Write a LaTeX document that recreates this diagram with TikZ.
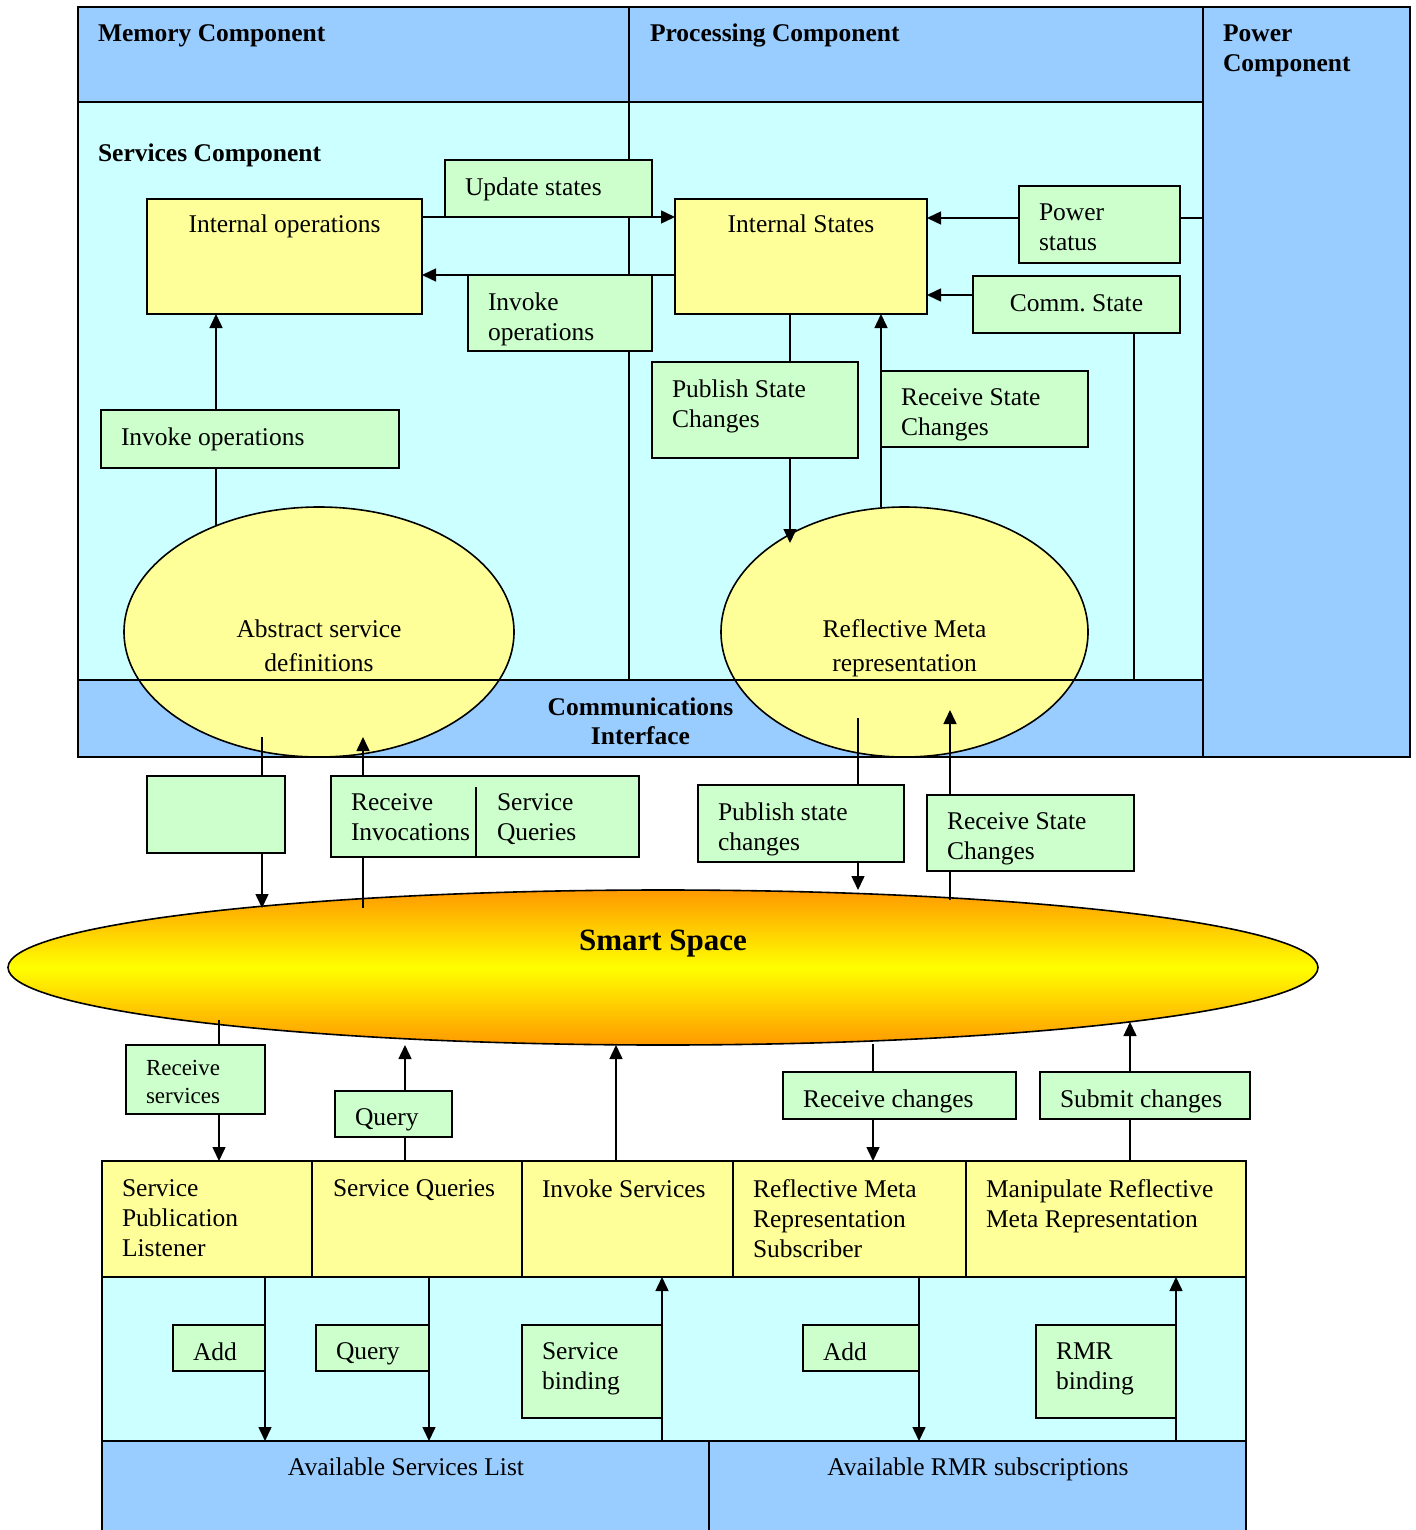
\documentclass[tikz,border=0pt]{standalone}
\usepackage{fontspec}
\setmainfont{Liberation Serif}
\usetikzlibrary{arrows.meta,shapes.geometric}
\definecolor{cblue}{HTML}{99CCFF}
\definecolor{ccyan}{HTML}{CCFFFF}
\definecolor{cyel}{HTML}{FFFF99}
\definecolor{cgrn}{HTML}{CCFFCC}
\definecolor{sorange}{HTML}{FF9900}
\definecolor{syellow}{HTML}{FFFF00}
% green label box: name, x, y, width, height, text
\newcommand{\greenlabel}[6]{%
  \node[gbox, minimum width=#4pt, minimum height=#5pt] (#1) at (#2,#3) {};
  \node[txt, anchor=north west, align=left] (#1T) at ([xshift=20pt,yshift=-18pt]#1.north west) {#6};}
\begin{document}
\frenchspacing
\begin{tikzpicture}[x=1pt,y=-1pt,
  font=\fontsize{25.5}{30}\selectfont,
  area/.style={draw=black, line width=1.6pt, inner sep=0pt, outer sep=0pt, anchor=north west},
  bluearea/.style={area, fill=cblue},
  cyanarea/.style={area, fill=ccyan},
  ybox/.style={area, fill=cyel},
  gbox/.style={area, fill=cgrn},
  txt/.style={inner sep=0pt, outer sep=0pt},
  hd/.style={txt, font=\fontsize{25.5}{30}\selectfont\bfseries},
  ln/.style={line width=1.5pt},
  arr/.style={ln, -{Triangle[length=14pt,width=13pt]}},
  oval/.style={ellipse, draw=black, line width=1.6pt, inner sep=0pt, outer sep=0pt}
]
\fill[white] (0,0) rectangle (1415,1530);
\useasboundingbox (0,0) rectangle (1415,1530);

% ---------- top block ----------
\node[cyanarea, minimum width=1125pt, minimum height=578pt] (sva) at (78,102) {};
\node[bluearea, minimum width=551pt, minimum height=95pt] (mem) at (78,7) {};
\node[bluearea, minimum width=574pt, minimum height=95pt] (proc) at (629,7) {};
\node[bluearea, minimum width=207pt, minimum height=750pt] (pwc) at (1203,7) {};
\node[bluearea, minimum width=1125pt, minimum height=77pt] (ci) at (78,680) {};
\draw[ln] (mem.south east) -- (mem.south east |- ci.north);

\node[hd, anchor=base west] (memT) at (98,42) {Memory Component};
\node[hd, anchor=base west] (procT) at (650,42) {Processing Component};
\node[hd, anchor=north west, align=left] (pwcT) at (1223,25) {Power\\Component};
\node[hd, anchor=base west] (svaT) at (98,162) {Services Component};

% Comm. State box and its vertical line (behind ellipses)
\node[gbox, minimum width=207pt, minimum height=57pt] (cst) at (973,276) {};
\node[txt, anchor=north] (cstT) at ([yshift=-18.5pt]cst.north) {Comm. State};
\draw[ln] (cst.south -| 1134,0) -- (ci.north -| 1134,0);

% ellipses
\node[oval, fill=cyel, minimum width=390pt, minimum height=250pt] (aed) at (319,632) {};
\node[oval, fill=cyel, minimum width=367pt, minimum height=250pt] (rme) at (904.5,632) {};
\draw[line width=1.6pt] (ci.north west) -- (ci.north east);
\node[txt, anchor=north, align=center, font=\fontsize{25.5}{34}\selectfont] (aedT) at (319,620) {Abstract service\\definitions};
\node[txt, anchor=north, align=center, font=\fontsize{25.5}{34}\selectfont] (rmeT) at (904.5,620) {Reflective Meta\\representation};
\node[hd, anchor=north, align=center, font=\fontsize{25.5}{28.5}\selectfont\bfseries] (ciT) at (640.5,698) {Communications\\Interface};

% yellow boxes
\node[ybox, minimum width=275pt, minimum height=115pt] (iops) at (147,199) {};
\node[txt, anchor=base] (iopsT) at ([yshift=-34pt]iops.north) {Internal operations};
\node[ybox, minimum width=252pt, minimum height=115pt] (ist) at (675,199) {};
\node[txt, anchor=base] (istT) at ([yshift=-34pt]ist.north) {Internal States};

% green boxes top
\greenlabel{ups}{445}{160}{207}{57}{Update states}
\greenlabel{iop}{468}{275}{184}{76}{Invoke\\operations}
\greenlabel{pws}{1019}{186}{161}{77}{Power\\status}
\greenlabel{psc}{652}{362}{206}{96}{Publish State\\Changes}
\greenlabel{rsc}{881}{371}{207}{76}{Receive State\\Changes}
\greenlabel{iol}{101}{410}{298}{58}{Invoke operations}

% top connectors
\draw[arr] (iops.east |- ups.south) -- (ist.west |- ups.south);
\draw[arr] (ist.west |- iop.north) -- (iops.east |- iop.north);
\draw[arr] (pws.west |- 0,218) -- (ist.east |- 0,218);
\draw[ln] (pws.east |- 0,218) -- (pwc.west |- 0,218);
\draw[arr] (cst.west |- 0,295) -- (ist.east |- 0,295);
\coordinate (p1) at (790,543);
\coordinate (p2) at (881,507);
\coordinate (p3) at (216,525);
\draw[ln] (ist.south -| p1) -- (psc.north -| p1);
\draw[arr] (psc.south -| p1) -- (p1);
\draw[arr] (p2) -- (ist.south -| p2);
\draw[ln] (p3) -- (iol.south -| p3);
\draw[arr] (iol.north -| p3) -- (iops.south -| p3);

% ---------- middle ----------
\node[gbox, minimum width=138pt, minimum height=77pt] (eb) at (147,776) {};
\node[gbox, minimum width=308pt, minimum height=81pt] (ri) at (331,776) {};
\node[txt, anchor=north west, align=left] (riA) at ([xshift=20pt,yshift=-18pt]ri.north west) {Receive\\Invocations};
\node[txt, anchor=north west, align=left] (riB) at ([xshift=166pt,yshift=-18pt]ri.north west) {Service\\Queries};
\coordinate (dv) at (476,787);
\draw[ln] (dv) -- (dv |- ri.south);
\greenlabel{psm}{698}{785}{206}{77}{Publish state\\changes}
\greenlabel{rsm}{927}{795}{207}{76}{Receive State\\Changes}

\node[oval, top color=sorange, bottom color=sorange, middle color=syellow, minimum width=1310pt, minimum height=155pt] (ss) at (663,967.5) {};
\node[hd, anchor=base, font=\fontsize{31}{36}\selectfont\bfseries] (ssT) at (663,950) {Smart Space};

\coordinate (p4) at (262,737);
\coordinate (p5) at (262,908);
\coordinate (p6) at (363,908);
\coordinate (p7) at (363,737);
\coordinate (p8) at (858,718);
\coordinate (p9) at (858,890);
\coordinate (p10) at (950,900);
\coordinate (p11) at (950,710);
\draw[ln] (p4) -- (eb.north -| p4);
\draw[arr] (eb.south -| p4) -- (p5);
\draw[ln] (p6) -- (ri.south -| p6);
\draw[arr] (ri.north -| p6) -- (p7);
\draw[ln] (p8) -- (psm.north -| p8);
\draw[arr] (psm.south -| p8) -- (p9);
\draw[ln] (p10) -- (rsm.south -| p10);
\draw[arr] (rsm.north -| p10) -- (p11);

% ---------- lower block ----------
\node[cyanarea, minimum width=1144pt, minimum height=164pt] (cya) at (102,1277) {};
\node[bluearea, minimum width=607pt, minimum height=94pt] (asl) at (102,1441) {};
\node[bluearea, minimum width=537pt, minimum height=94pt] (arl) at (709,1441) {};
\node[txt, anchor=base] (aslT) at (406,1475) {Available Services List};
\node[txt, anchor=base] (arlT) at (978,1475) {Available RMR subscriptions};

\node[ybox, minimum width=210pt, minimum height=116pt] (spl) at (102,1161) {};
\node[ybox, minimum width=210pt, minimum height=116pt] (sqy) at (312,1161) {};
\node[ybox, minimum width=211pt, minimum height=116pt] (isv) at (522,1161) {};
\node[ybox, minimum width=233pt, minimum height=116pt] (rmrs) at (733,1161) {};
\node[ybox, minimum width=280pt, minimum height=116pt] (mrmr) at (966,1161) {};
\node[txt, anchor=north west, align=left] (splT) at ([xshift=20pt,yshift=-19pt]spl.north west) {Service\\Publication\\Listener};
\node[txt, anchor=north west, align=left] (sqyT) at ([xshift=21pt,yshift=-19pt]sqy.north west) {Service Queries};
\node[txt, anchor=north west, align=left] (isvT) at ([xshift=20pt,yshift=-19pt]isv.north west) {Invoke Services};
\node[txt, anchor=north west, align=left] (rmrsT) at ([xshift=20pt,yshift=-19pt]rmrs.north west) {Reflective Meta\\Representation\\Subscriber};
\node[txt, anchor=north west, align=left] (mrmrT) at ([xshift=20pt,yshift=-19pt]mrmr.north west) {Manipulate Reflective\\Meta Representation};

\node[gbox, minimum width=139pt, minimum height=69pt] (rsv) at (126,1045) {};
\node[txt, anchor=north west, align=left, font=\fontsize{23}{28}\selectfont] (rsvT) at ([xshift=20pt,yshift=-15.5pt]rsv.north west) {Receive\\services};
\greenlabel{qry}{335}{1091}{117}{46}{Query}
\greenlabel{rch}{783}{1072}{233}{47}{Receive changes}
\greenlabel{sch}{1040}{1072}{210}{47}{Submit changes}

\coordinate (p12) at (219,1020);
\coordinate (p13) at (405,1045);
\coordinate (p14) at (616,1045);
\coordinate (p15) at (873,1044);
\coordinate (p16) at (1130,1022);
\draw[ln] (p12) -- (rsv.north -| p12);
\draw[arr] (rsv.south -| p12) -- (spl.north -| p12);
\draw[ln] (sqy.north -| p13) -- (qry.south -| p13);
\draw[arr] (qry.north -| p13) -- (p13);
\draw[arr] (isv.north -| p14) -- (p14);
\draw[ln] (p15) -- (rch.north -| p15);
\draw[arr] (rch.south -| p15) -- (rmrs.north -| p15);
\draw[ln] (mrmr.north -| p16) -- (sch.south -| p16);
\draw[arr] (sch.north -| p16) -- (p16);

\greenlabel{ad1}{173}{1325}{92}{46}{Add}
\greenlabel{qy2}{316}{1325}{113}{46}{Query}
\greenlabel{sbd}{522}{1325}{140}{93}{Service\\binding}
\greenlabel{ad2}{803}{1325}{116}{46}{Add}
\greenlabel{rmb}{1036}{1325}{140}{93}{RMR\\binding}

\draw[arr] (spl.south -| ad1.east) -- (asl.north -| ad1.east);
\draw[arr] (sqy.south -| qy2.east) -- (asl.north -| qy2.east);
\draw[arr] (asl.north -| sbd.east) -- (isv.south -| sbd.east);
\draw[arr] (rmrs.south -| ad2.east) -- (arl.north -| ad2.east);
\draw[arr] (arl.north -| rmb.east) -- (mrmr.south -| rmb.east);
\end{tikzpicture}
\end{document}
